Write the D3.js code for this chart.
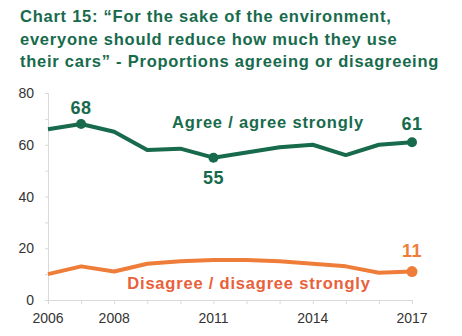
<!DOCTYPE html>
<html>
<head>
<meta charset="utf-8">
<script src="https://cdn.jsdelivr.net/npm/d3@7"></script>
<style>
	body { margin: 0; background: #fff; }
	text { font-family: "Liberation Sans", Arial, sans-serif; }
</style>
</head>
<body>
<div id="chart"></div>
<script>
var years = [2006, 2007, 2008, 2009, 2010, 2011, 2012, 2013, 2014, 2015, 2016, 2017];
var agree = [66, 68, 65, 58, 58.5, 55, 57, 59, 60, 56, 60, 61];
var disagree = [10, 13, 11, 14, 15, 15.5, 15.5, 15, 14, 13, 10.5, 11];
var yearTicks = [2006, 2008, 2011, 2014, 2017];
var yTicks = [0, 20, 40, 60, 80];
var titleLines = [
	"Chart 15: \u201cFor the sake of the environment,",
	"everyone should reduce how much they use",
	"their cars\u201d - Proportions agreeing or disagreeing"
];

var width = 462,
	height = 336;
var green = "#176b4c",
	orange = "#ef7d3a",
	orangeText = "#e9613a";

var svg = d3.select("#chart")
	.append("svg")
	.attr("width", width)
	.attr("height", height);

svg.selectAll(".title")
	.data(titleLines)
	.enter()
	.append("text")
	.attr("x", 20)
	.attr("y", function (d, i) { return 22 + i * 22.6; })
	.attr("font-size", 16.5)
	.attr("font-weight", "bold")
	.attr("letter-spacing", 0.75)
	.attr("fill", green)
	.text(function (d) { return d; });

var x = d3.scaleLinear().domain([2006, 2017]).range([48, 412]);
var y = d3.scaleLinear().domain([0, 80]).range([300, 93]);

// axes
var xAxis = svg.append("g")
	.attr("transform", "translate(0,300)")
	.call(d3.axisBottom(x).tickValues(years).tickSize(4).tickFormat(""));
xAxis.selectAll("line, path").attr("stroke", "#d9d9d9");

var yAxis = svg.append("g")
	.attr("transform", "translate(48,0)")
	.call(d3.axisLeft(y).tickValues(d3.range(0, 81, 10)).tickSize(3).tickFormat(""));
yAxis.selectAll("line, path").attr("stroke", "#d9d9d9");

svg.selectAll(".xlab")
	.data(yearTicks)
	.enter()
	.append("text")
	.attr("x", function (d) { return x(d); })
	.attr("y", 323)
	.attr("text-anchor", "middle")
	.attr("font-size", 14)
	.attr("fill", "#333")
	.text(function (d) { return d; });

svg.selectAll(".ylab")
	.data(yTicks)
	.enter()
	.append("text")
	.attr("x", 34)
	.attr("y", function (d) { return y(d) + 5; })
	.attr("text-anchor", "end")
	.attr("font-size", 14)
	.attr("fill", "#333")
	.text(function (d) { return d; });

var line = d3.line()
	.x(function (d, i) { return x(years[i]); })
	.y(function (d) { return y(d); });

svg.append("path")
	.datum(agree)
	.attr("d", line)
	.attr("fill", "none")
	.attr("stroke", green)
	.attr("stroke-width", 4)
	.attr("stroke-linejoin", "round");

svg.append("path")
	.datum(disagree)
	.attr("d", line)
	.attr("fill", "none")
	.attr("stroke", orange)
	.attr("stroke-width", 4)
	.attr("stroke-linejoin", "round");

// marked points
var greenMarks = [1, 5, 11];
svg.selectAll(".gdot")
	.data(greenMarks)
	.enter()
	.append("circle")
	.attr("cx", function (i) { return x(years[i]); })
	.attr("cy", function (i) { return y(agree[i]); })
	.attr("r", 5)
	.attr("fill", green);

svg.append("circle")
	.attr("cx", x(2017))
	.attr("cy", y(disagree[11]))
	.attr("r", 5.5)
	.attr("fill", orange);

var valueLabels = [
	{ v: agree[1], yr: 2007, dy: -10, c: green },
	{ v: agree[5], yr: 2011, dy: 26, c: green },
	{ v: agree[11], yr: 2017, dy: -12, c: green },
	{ v: disagree[11], yr: 2017, dy: -15, c: orange }
];
svg.selectAll(".vlab")
	.data(valueLabels)
	.enter()
	.append("text")
	.attr("x", function (d) { return x(d.yr); })
	.attr("y", function (d) { return y(d.v) + d.dy; })
	.attr("text-anchor", "middle")
	.attr("font-size", 18)
	.attr("font-weight", "bold")
	.attr("letter-spacing", 0.5)
	.attr("fill", function (d) { return d.c; })
	.text(function (d) { return Math.round(d.v); });

svg.append("text")
	.attr("x", 268)
	.attr("y", 128)
	.attr("text-anchor", "middle")
	.attr("font-size", 16.5)
	.attr("font-weight", "bold")
	.attr("letter-spacing", 0.8)
	.attr("fill", green)
	.text("Agree / agree strongly");

svg.append("text")
	.attr("x", 249)
	.attr("y", 289)
	.attr("text-anchor", "middle")
	.attr("font-size", 16.5)
	.attr("font-weight", "bold")
	.attr("letter-spacing", 0.8)
	.attr("fill", orangeText)
	.text("Disagree / disagree strongly");
</script>
</body>
</html>
